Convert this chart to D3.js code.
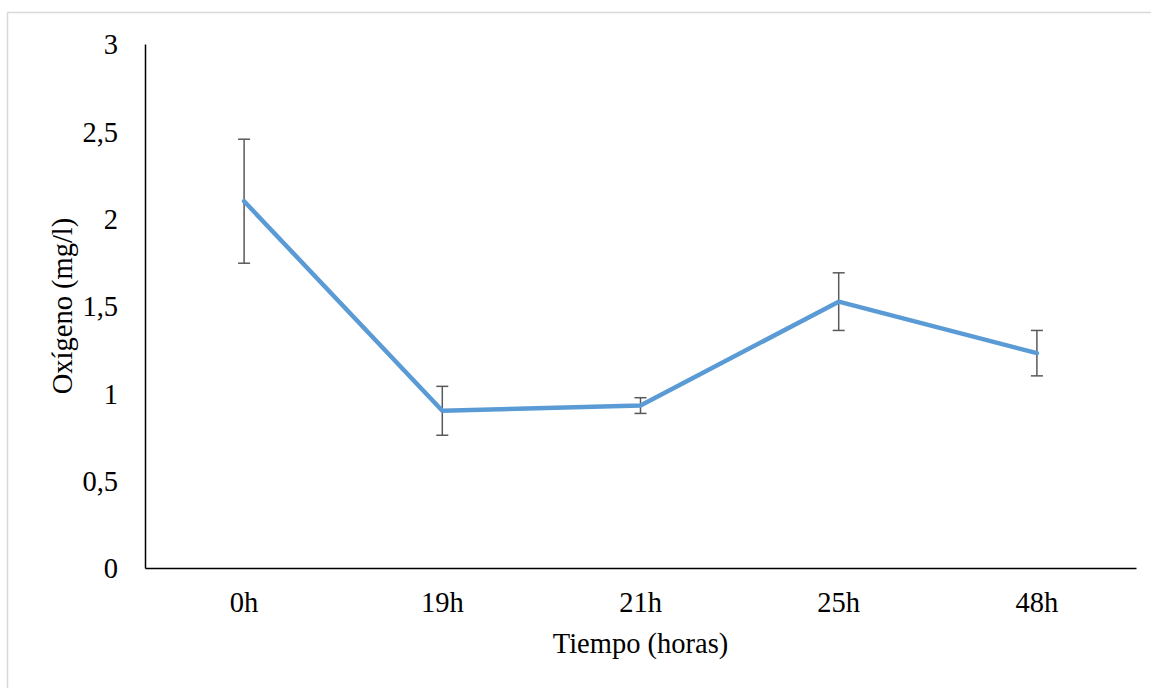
<!DOCTYPE html>
<html>
<head>
<meta charset="utf-8">
<script src="https://cdn.jsdelivr.net/npm/d3@7"></script>
<style>
  body { margin: 0; background: #fff; }
  text { font-family: "Liberation Serif", "Times New Roman", serif; fill: #000; }
</style>
</head>
<body>
<div id="chart"></div>
<script>
var categories = ["0h", "19h", "21h", "25h", "48h"];
var oxygen = [2.10, 0.90, 0.93, 1.525, 1.23];
var errors = [0.355, 0.14, 0.045, 0.165, 0.13];
var yTicks = [0, 0.5, 1, 1.5, 2, 2.5, 3];

var width = 1151, height = 688;
var margin = {top: 44, right: 15, bottom: 120, left: 145};
var fontSize = "28.5px";

var svg = d3.select("#chart").append("svg")
    .attr("width", width)
    .attr("height", height);

// outer frame
svg.append("rect")
   .attr("x", 7.5).attr("y", 12.5)
   .attr("width", width + 10).attr("height", height + 10)
   .attr("fill", "none")
   .attr("stroke", "#d9d9d9")
   .attr("stroke-width", 1.5);

var x = d3.scaleBand()
    .domain(categories)
    .range([margin.left, 1136]);

var y = d3.scaleLinear()
    .domain([0, 3])
    .range([568, margin.top]);

// y axis
var yAxis = svg.append("g")
    .attr("transform", "translate(" + margin.left + ",0)")
    .call(d3.axisLeft(y).tickValues(yTicks).tickSize(0).tickPadding(27)
        .tickFormat(function(d){ return String(d).replace(".", ","); }));
yAxis.select(".domain").attr("stroke", "#000").attr("stroke-width", 1.5);
yAxis.selectAll("text").style("font-size", fontSize).attr("dy", "0.35em");

// x axis
var xAxis = svg.append("g")
    .attr("transform", "translate(0," + y(0) + ")")
    .call(d3.axisBottom(x).tickSize(0).tickPadding(24));
xAxis.select(".domain").attr("stroke", "#000").attr("stroke-width", 1.5);
xAxis.selectAll("text").style("font-size", fontSize);

// error bars
var eb = svg.append("g").attr("class", "errors");
var cap = 6;
categories.forEach(function(c, i){
    var cx = x(c) + x.bandwidth() / 2;
    eb.append("line")
      .attr("x1", cx).attr("x2", cx)
      .attr("y1", y(oxygen[i] + errors[i])).attr("y2", y(oxygen[i] - errors[i]))
      .attr("stroke", "#595959").attr("stroke-width", 1.5);
    [oxygen[i] + errors[i], oxygen[i] - errors[i]].forEach(function(v){
        eb.append("line")
          .attr("x1", cx - cap).attr("x2", cx + cap)
          .attr("y1", y(v)).attr("y2", y(v))
          .attr("stroke", "#595959").attr("stroke-width", 1.5);
    });
});

// line
var line = d3.line()
    .x(function(d, i){ return x(categories[i]) + x.bandwidth() / 2; })
    .y(function(d){ return y(d); });

svg.append("path")
   .datum(oxygen)
   .attr("d", line)
   .attr("fill", "none")
   .attr("stroke", "#5b9bd5")
   .attr("stroke-width", 4.5)
   .attr("stroke-linejoin", "round")
   .attr("stroke-linecap", "round");

// axis titles
svg.append("text")
   .attr("x", (margin.left + 1136) / 2)
   .attr("y", 653)
   .attr("text-anchor", "middle")
   .style("font-size", fontSize)
   .text("Tiempo (horas)");

svg.append("text")
   .attr("transform", "translate(72,306) rotate(-90)")
   .attr("text-anchor", "middle")
   .style("font-size", fontSize)
   .text("Oxígeno (mg/l)");
</script>
</body>
</html>
